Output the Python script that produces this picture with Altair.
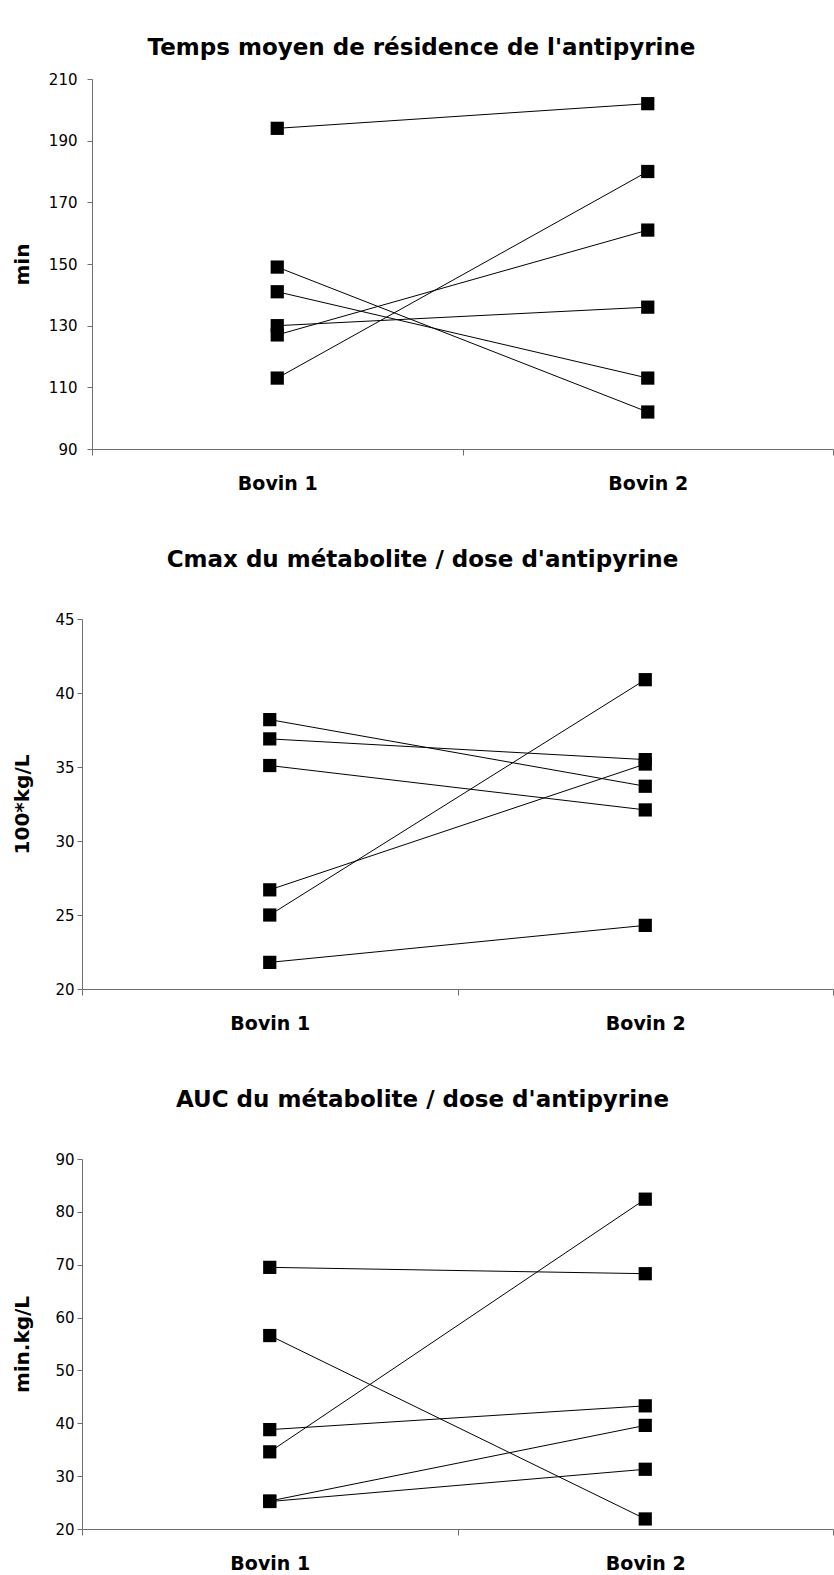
import altair as alt
import pandas as pd

groups = ["Bovin 1", "Bovin 2"]

# Panel 1 : Temps moyen de résidence (min)
p1_title = "Temps moyen de résidence de l'antipyrine"
p1_ytitle = "min"
p1_bovin1 = [194, 149, 141, 130, 127, 113]
p1_bovin2 = [202, 102, 113, 136, 161, 180]
p1_ticks = [90, 110, 130, 150, 170, 190, 210]

# Panel 2 : Cmax du métabolite / dose (100*kg/L)
p2_title = "Cmax du métabolite / dose  d'antipyrine"
p2_ytitle = "100*kg/L"
p2_bovin1 = [38.2, 36.9, 35.1, 26.7, 25.0, 21.8]
p2_bovin2 = [33.7, 35.5, 32.1, 35.2, 40.9, 24.3]
p2_ticks = [20, 25, 30, 35, 40, 45]

# Panel 3 : AUC du métabolite / dose (min.kg/L)
p3_title = "AUC du métabolite / dose d'antipyrine"
p3_ytitle = "min.kg/L"
p3_bovin1 = [69.5, 56.6, 38.8, 34.6, 25.3, 25.2]
p3_bovin2 = [68.3, 21.9, 43.3, 82.4, 39.6, 31.3]
p3_ticks = [20, 30, 40, 50, 60, 70, 80, 90]

FONT = "DejaVu Sans"
AXIS_GRAY = "#6e6e6e"
WIDTH = 751


def long_df(b1, b2):
    rows = []
    for i, (a, b) in enumerate(zip(b1, b2)):
        rows.append({"animal": i, "groupe": groups[0], "valeur": a})
        rows.append({"animal": i, "groupe": groups[1], "valeur": b})
    return pd.DataFrame(rows)


def panel(b1, b2, title, ytitle, ticks, axis_shift, label_pad, title_x, title_offset, title_dx):
    df = long_df(b1, b2)
    x = alt.X(
        "groupe:N",
        sort=groups,
        scale=alt.Scale(paddingInner=0, paddingOuter=0, range=[axis_shift, WIDTH]),
        axis=alt.Axis(
            title=None,
            labelAngle=0,
            tickBand="extent",
            tickSize=6,
            labelPadding=19,
            labelFont=FONT,
            labelFontSize=19,
            labelFontWeight="bold",
            labelColor="black",
            domainColor=AXIS_GRAY,
            tickColor=AXIS_GRAY,
            grid=False,
        ),
    )
    y = alt.Y(
        "valeur:Q",
        scale=alt.Scale(domain=[ticks[0], ticks[-1]], nice=False, zero=False),
        axis=alt.Axis(
            values=ticks,
            offset=-axis_shift,
            title=ytitle,
            titleX=title_x,
            titleY=185,
            titleAngle=270,
            titleAlign="center",
            titleBaseline="alphabetic",
            titleFont=FONT,
            titleFontSize=20,
            titleFontWeight="bold",
            titleColor="black",
            labelFont=FONT,
            labelFontSize=15,
            labelColor="black",
            labelPadding=label_pad,
            tickSize=5,
            domainColor=AXIS_GRAY,
            tickColor=AXIS_GRAY,
            grid=False,
        ),
    )
    base = alt.Chart(df)
    lines = base.mark_line(color="black", strokeWidth=1).encode(
        x=x, y=y, detail="animal:N"
    )
    pts = base.mark_square(size=175, color="black", opacity=1).encode(x=x, y=y)
    return alt.layer(lines, pts).properties(
        width=WIDTH,
        height=370,
        title=alt.TitleParams(
            title,
            offset=title_offset,
            frame="group",
            anchor="middle",
            baseline="alphabetic",
            dx=title_dx,
            font=FONT,
            fontSize=23,
            fontWeight="bold",
            color="black",
        ),
    )


c1 = panel(p1_bovin1, p1_bovin2, p1_title, p1_ytitle, p1_ticks, 10, 10, -64, -6, -36)
c2 = panel(p2_bovin1, p2_bovin2, p2_title, p2_ytitle, p2_ticks, 0, 3, -54, 22, -35)
c3 = panel(p3_bovin1, p3_bovin2, p3_title, p3_ytitle, p3_ticks, 0, 3, -54, 22, -35)

chart = (
    alt.concat(c1, c2, c3, columns=1, align="none", spacing=56)
    .properties(padding={"left": 12, "top": 37, "right": 0, "bottom": 0}, background="white")
    .configure_view(stroke=None)
)

chart.save("out.html", embed_options={"renderer": "svg", "actions": False})
